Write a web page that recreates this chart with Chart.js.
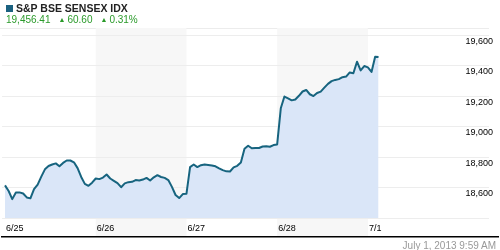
<!DOCTYPE html>
<html lang="en">
<head>
  <meta charset="UTF-8">
  <title>S&amp;P BSE SENSEX IDX</title>
  <script src="https://cdn.jsdelivr.net/npm/chart.js@4.4.0/dist/chart.umd.min.js"></script>
  <style>
    body { margin: 0; background: #fff; font-family: Arial, "Liberation Sans", sans-serif; }
    .wrap { position: relative; width: 500px; height: 250px; overflow: hidden; }
    #chart { position: absolute; left: 0; top: 0; }
    .title { position: absolute; left: 6px; top: 2px; font-size: 10.5px; font-weight: bold; color: #222; line-height: 12px; }
    .title .sq { display: inline-block; width: 7px; height: 7px; background: #1b6180; margin-right: 3px; vertical-align: 0; }
    .quote { position: absolute; left: 6px; top: 14px; font-size: 10px; color: #2a9a2a; line-height: 12px; white-space: nowrap; }
    .quote .up { font-size: 7px; margin: 0 2px 0 8px; vertical-align: 1px; }
    .stamp { position: absolute; right: 4px; top: 240px; font-size: 10px; color: #999; line-height: 12px; }
  </style>
</head>
<body>
  <div class="wrap">
    <canvas id="chart" width="500" height="250"></canvas>
    <div class="title"><span class="sq"></span>S&amp;P BSE SENSEX IDX</div>
    <div class="quote">19,456.41<span class="up">▲</span>60.60<span class="up">▲</span>0.31%</div>
    <div class="stamp">July 1, 2013 9:59 AM</div>
  </div>

  <script>
    // trading days shown on the x axis
    const dayLabels = ['6/25', '6/26', '6/27', '6/28', '7/1'];
    const shadedDays = [1, 3];
    const yTicks = [18400, 18600, 18800, 19000, 19200, 19400, 19600];

    // index level every 15 minutes from 9:15 (25 points per full session)
    const jun25 = [18615, 18578, 18525, 18568, 18569, 18562, 18536, 18530, 18590, 18620,
                   18672, 18720, 18742, 18752, 18759, 18740, 18762, 18778, 18778, 18766,
                   18728, 18670, 18625, 18612, 18633];
    const jun26 = [18660, 18656, 18666, 18686, 18660, 18645, 18630, 18603, 18628, 18636,
                   18638, 18650, 18647, 18653, 18664, 18647, 18668, 18682, 18670, 18664,
                   18650, 18605, 18552, 18532, 18558];
    const jun27 = [18560, 18735, 18752, 18735, 18747, 18752, 18749, 18745, 18740, 18727,
                   18715, 18707, 18706, 18733, 18743, 18765, 18855, 18875, 18858, 18860,
                   18860, 18870, 18872, 18868, 18879];
    const jun28 = [18883, 19120, 19197, 19185, 19172, 19178, 19202, 19230, 19240, 19212,
                   19200, 19220, 19229, 19255, 19280, 19298, 19306, 19311, 19324, 19328,
                   19355, 19350, 19425, 19368, 19397];
    const jul01 = [19388, 19358, 19458, 19456.41];
    const jul01Minutes = [0, 15, 30, 44];

    const sessionMinutes = 375;
    const stepMinutes = 15;

    const points = [];
    [jun25, jun26, jun27, jun28].forEach((vals, d) => {
      vals.forEach((v, k) => points.push({ x: d + k * stepMinutes / sessionMinutes, y: v }));
    });
    jul01.forEach((v, k) => points.push({ x: 4 + jul01Minutes[k] / sessionMinutes, y: v }));

    const bandsPlugin = {
      id: 'bands',
      beforeDraw(chart) {
        const { ctx, chartArea, scales } = chart;
        const xs = scales.x;
        ctx.save();
        ctx.strokeStyle = '#ececec';
        ctx.lineWidth = 1;
        ctx.beginPath();
        ctx.moveTo(0, chartArea.top + 0.5);
        ctx.lineTo(chartArea.right, chartArea.top + 0.5);
        ctx.stroke();
        ctx.fillStyle = '#f7f7f7';
        shadedDays.forEach(d => {
          const x0 = xs.getPixelForValue(d);
          const x1 = xs.getPixelForValue(d + 1);
          ctx.fillRect(x0, chartArea.top, x1 - x0, 236 - chartArea.top);
        });
        ctx.restore();
      },
      afterDraw(chart) {
        const { ctx } = chart;
        ctx.save();
        ctx.fillStyle = '#000';
        ctx.fillRect(1, 236, 498, 1.5);
        ctx.restore();
      }
    };

    const ctx = document.getElementById('chart').getContext('2d');
    new Chart(ctx, {
      type: 'line',
      data: {
        datasets: [{
          data: points,
          borderColor: '#17647f',
          backgroundColor: '#dae6f8',
          borderWidth: 2,
          borderJoinStyle: 'round',
          fill: 'start',
          pointRadius: 0,
          tension: 0
        }]
      },
      options: {
        responsive: false,
        animation: false,
        layout: { padding: { left: 0, right: 3, top: 28, bottom: 11 } },
        plugins: { legend: { display: false }, tooltip: { enabled: false } },
        scales: {
          x: {
            type: 'linear',
            min: -0.032,
            max: 5.335,
            grid: { display: false, drawTicks: false },
            border: { display: false },
            afterBuildTicks: axis => { axis.ticks = dayLabels.map((_, i) => ({ value: i })); },
            ticks: {
              align: 'start',
              labelOffset: 1,
              padding: 5,
              color: '#000',
              font: { family: "Arial, 'Liberation Sans', sans-serif", size: 9 },
              callback: v => dayLabels[v]
            }
          },
          y: {
            position: 'right',
            min: 18400,
            max: 19646,
            grid: { color: '#ededed', drawTicks: false },
            border: { display: false },
            afterBuildTicks: axis => { axis.ticks = yTicks.map(v => ({ value: v })); },
            ticks: {
              mirror: true,
              padding: 4,
              labelOffset: 6,
              color: '#000',
              font: { family: "Arial, 'Liberation Sans', sans-serif", size: 9 },
              callback: v => v === 18400 ? '' : v.toLocaleString('en-US')
            }
          }
        }
      },
      plugins: [bandsPlugin]
    });
  </script>
</body>
</html>
